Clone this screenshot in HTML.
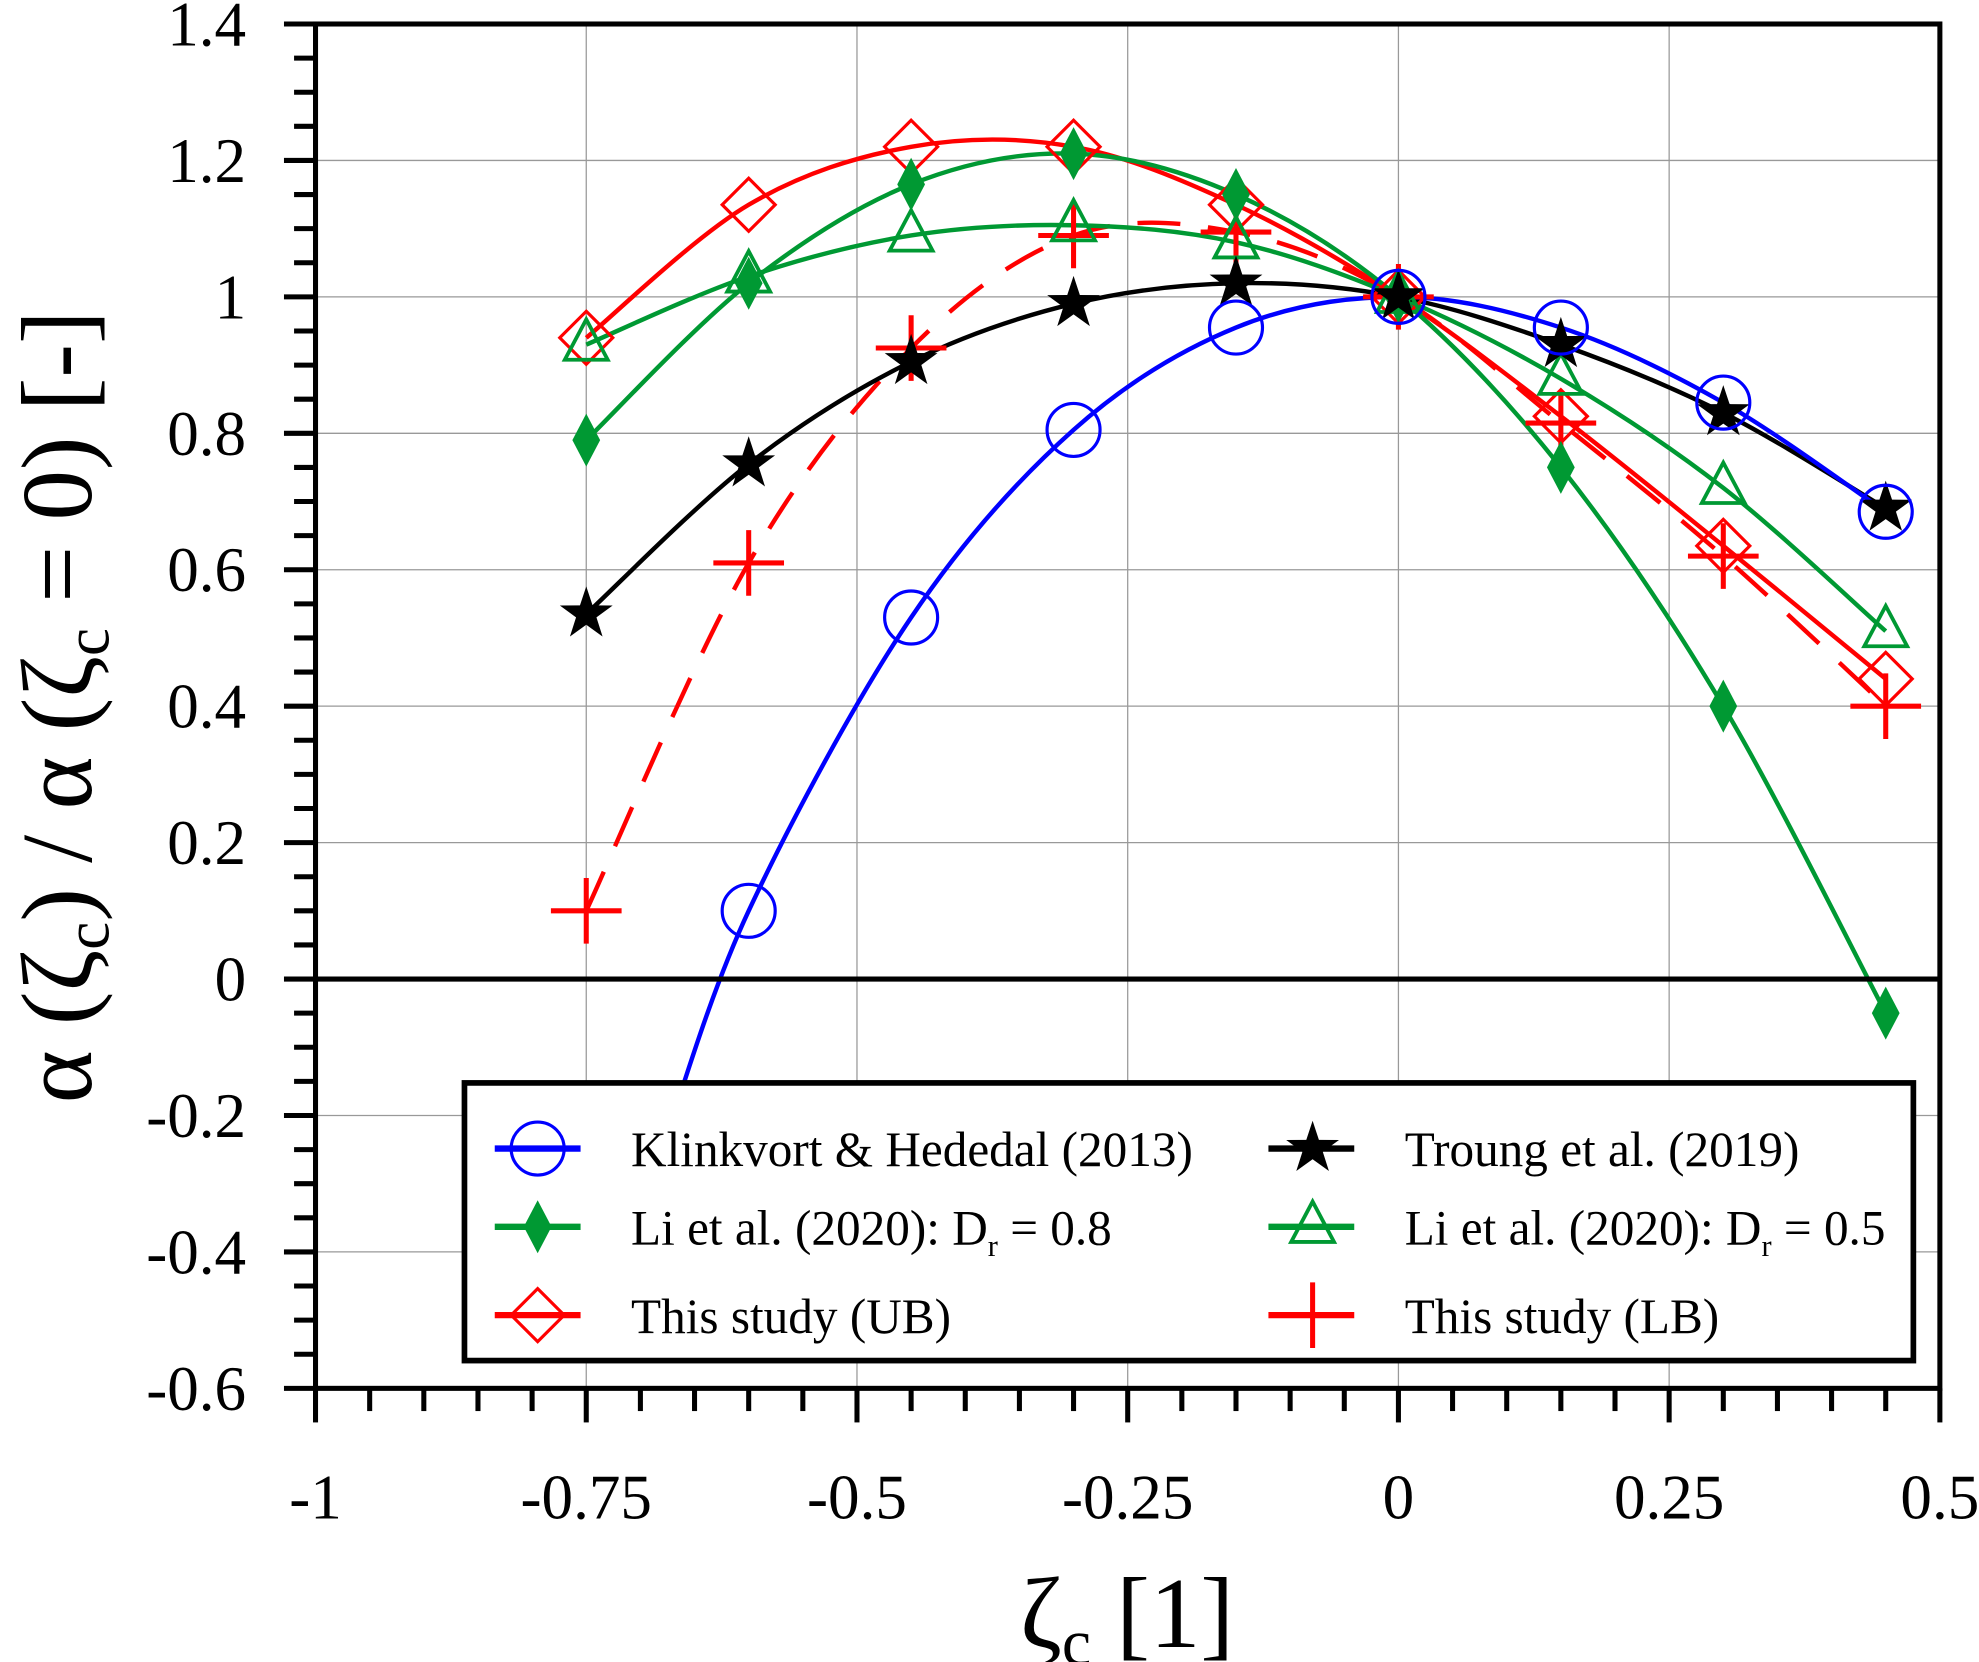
<!DOCTYPE html>
<html><head><meta charset="utf-8"><style>
html,body{margin:0;padding:0;background:#fff;}
svg{display:block;}
text{font-family:"Liberation Serif",serif;fill:#000;}
</style></head><body>
<svg id="chart" width="1979" height="1662" viewBox="0 0 1568 1316.8" xmlns="http://www.w3.org/2000/svg">
<g id="grid"></g>
<g id="series"></g>
<g id="axes"></g>
<g id="legend"></g>
<text x="893" y="1305" font-size="80" text-anchor="middle">ζ<tspan font-size="52" dy="14">c</tspan><tspan dy="-14"> [1]</tspan></text>
<text transform="translate(72,560) rotate(-90)" font-size="80" text-anchor="middle">α (ζ<tspan font-size="50" dy="14">c</tspan><tspan dy="-14">) / α (ζ</tspan><tspan font-size="50" dy="14">c</tspan><tspan dy="-14"> = 0) [-]</tspan></text>
</svg>
<script>
const xCats = [-0.75,-0.6,-0.45,-0.3,-0.15,0,0.15,0.3,0.45];
const klinkvort = [null,0.10,0.53,0.805,0.955,1.0,0.955,0.845,0.685];
const troung = [0.535,0.755,0.905,0.99,1.02,1.0,0.93,0.83,0.69];
const liDr08 = [0.79,1.02,1.165,1.21,1.15,1.0,0.75,0.40,-0.05];
const liDr05 = [0.93,1.03,1.09,1.105,1.08,1.0,0.88,0.72,0.51];
const studyUB = [0.94,1.135,1.22,1.22,1.135,1.0,0.825,0.635,0.44];
const studyLB = [0.10,0.61,0.925,1.09,1.095,1.0,0.815,0.62,0.40];
const klinkStart = [-0.68,-0.25];
const xTickLabels = ['-1','-0.75','-0.5','-0.25','0','0.25','0.5'];
const yTickLabels = ['1.4','1.2','1','0.8','0.6','0.4','0.2','0','-0.2','-0.4','-0.6'];

const NS='http://www.w3.org/2000/svg';
const L=250,R=1537,T=19,B=1100;
const px=x=>L+(x+1)/1.5*(R-L);
const py=v=>T+(1.4-v)/2*(B-T);
function mk(tag,attrs,parent){const e=document.createElementNS(NS,tag);for(const k in attrs)e.setAttribute(k,attrs[k]);parent.appendChild(e);return e;}
const grid=document.getElementById('grid'),axes=document.getElementById('axes'),ser=document.getElementById('series'),leg=document.getElementById('legend');

xTickLabels.forEach(t=>{const x=px(parseFloat(t));const l=mk('line',{x1:x,x2:x,y1:T,y2:B,stroke:'#999','stroke-width':1},grid);

});
yTickLabels.forEach(t=>{const y=py(parseFloat(t));const l=mk('line',{x1:L,x2:R,y1:y,y2:y,stroke:'#999','stroke-width':1},grid);

});

const defs=mk('defs',{},ser);const cp=mk('clipPath',{id:'pc'},defs);mk('rect',{x:L,y:T,width:R-L,height:B-T},cp);
const sg=mk('g',{'clip-path':'url(#pc)'},ser);

function smoothPath(pts){let d='M'+pts[0][0]+','+pts[0][1];
for(let i=0;i<pts.length-1;i++){const p0=pts[Math.max(i-1,0)],p1=pts[i],p2=pts[i+1],p3=pts[Math.min(i+2,pts.length-1)];
const c1=[p1[0]+(p2[0]-p0[0])/6,p1[1]+(p2[1]-p0[1])/6],c2=[p2[0]-(p3[0]-p1[0])/6,p2[1]-(p3[1]-p1[1])/6];
d+=' C'+c1[0]+','+c1[1]+' '+c2[0]+','+c2[1]+' '+p2[0]+','+p2[1];}return d;}

function marker(type,cx,cy,g,color){
  if(type==='circle')return mk('circle',{cx,cy,r:21,fill:'none',stroke:color,'stroke-width':2.5},g);
  if(type==='star'){let p=[];for(let i=0;i<10;i++){const r=i%2?8.5:22;const a=-Math.PI/2+i*Math.PI/5;p.push((cx+r*Math.cos(a))+','+(cy+r*Math.sin(a)));}return mk('polygon',{points:p.join(' '),fill:color},g);}
  if(type==='fdiamond')return mk('polygon',{points:`${cx},${cy-21} ${cx+11},${cy} ${cx},${cy+21} ${cx-11},${cy}`,fill:color},g);
  if(type==='triangle')return mk('polygon',{points:`${cx},${cy-20} ${cx+17},${cy+12} ${cx-17},${cy+12}`,fill:'none',stroke:color,'stroke-width':3},g);
  if(type==='diamond')return mk('polygon',{points:`${cx},${cy-21} ${cx+21},${cy} ${cx},${cy+21} ${cx-21},${cy}`,fill:'none',stroke:color,'stroke-width':2.5},g);
  if(type==='plus'){const g2=mk('g',{},g);mk('line',{x1:cx-28,x2:cx+28,y1:cy,y2:cy,stroke:color,'stroke-width':4},g2);mk('line',{x1:cx,x2:cx,y1:cy-26,y2:cy+26,stroke:color,'stroke-width':4},g2);return g2;}
}
const seriesDefs=[
 {name:'klinkvort',vals:klinkvort,color:'#0000ff',m:'circle',dash:null,label:'Klinkvort & Hededal (2013)'},
 {name:'troung',vals:troung,color:'#000000',m:'star',dash:null,label:'Troung et al. (2019)'},
 {name:'li-dr08',vals:liDr08,color:'#009933',m:'fdiamond',dash:null,label:'Li et al. (2020): D',sub:'r',tail:' = 0.8'},
 {name:'li-dr05',vals:liDr05,color:'#009933',m:'triangle',dash:null,label:'Li et al. (2020): D',sub:'r',tail:' = 0.5'},
 {name:'study-ub',vals:studyUB,color:'#ff0000',m:'diamond',dash:null,label:'This study (UB)'},
 {name:'study-lb',vals:studyLB,color:'#ff0000',m:'plus',dash:'34 22',label:'This study (LB)'}
];
seriesDefs.slice().reverse().forEach(s=>{
  let pts=[];if(s.name==='klinkvort')pts.push([px(klinkStart[0]),py(klinkStart[1])]);
  xCats.forEach((x,i)=>{if(s.vals[i]!==null)pts.push([px(x),py(s.vals[i])]);});
  const a={d:smoothPath(pts),fill:'none',stroke:s.color,'stroke-width':3.5};if(s.dash)a['stroke-dasharray']=s.dash;
  const p=mk('path',a,sg);
  
  
});
seriesDefs.slice().reverse().forEach(s=>{
  const g=mk('g',{},sg);
  
  
  xCats.forEach((x,i)=>{if(s.vals[i]===null)return;const m=marker(s.m,px(x),py(s.vals[i]),g,s.color);
    
    });
});

const zl=mk('line',{x1:L,x2:R,y1:py(0),y2:py(0),stroke:'#000','stroke-width':4},axes);


const fr=mk('rect',{x:L,y:T,width:R-L,height:B-T,fill:'none',stroke:'#000','stroke-width':4},axes);


for(let k=0;k<=40;k++){const v=1.4-k*0.05;const y=py(v);const major=k%4===0;
  mk('line',{x1:L-(major?25:17),x2:L,y1:y,y2:y,stroke:'#000','stroke-width':4},axes);}
yTickLabels.forEach(t=>{const e=mk('text',{x:L-55,y:py(parseFloat(t))+17,'font-size':50,'text-anchor':'end'},axes);e.textContent=t;
  
  });
for(let k=0;k<=30;k++){const x=px(-1+k*0.05);const major=k%5===0;
  mk('line',{x1:x,x2:x,y1:B,y2:B+(major?27:18),stroke:'#000','stroke-width':4},axes);}
xTickLabels.forEach(t=>{const e=mk('text',{x:px(parseFloat(t)),y:1203,'font-size':50,'text-anchor':'middle'},axes);e.textContent=t;
  
  });

const lb=mk('rect',{x:368,y:858,width:1148,height:220,fill:'#fff',stroke:'#000','stroke-width':4.5},leg);


const rows=[910,972,1042],cols=[[392,426,500],[1005,1040,1113]];
seriesDefs.forEach((s,i)=>{const c=cols[i%2],y=rows[Math.floor(i/2)];
  const g=mk('g',{},leg);
  
  
  mk('line',{x1:c[0],x2:c[0]+68,y1:y,y2:y,stroke:s.color,'stroke-width':5},g);
  marker(s.m,c[1],y,g,s.color);
  const t=mk('text',{x:c[2],y:y+14,'font-size':39},g);t.textContent=s.label;
  if(s.sub){const a=mk('tspan',{'font-size':24,dy:9},t);a.textContent=s.sub;const b=mk('tspan',{dy:-9},t);b.textContent=s.tail;}
});
</script>
</body></html>
